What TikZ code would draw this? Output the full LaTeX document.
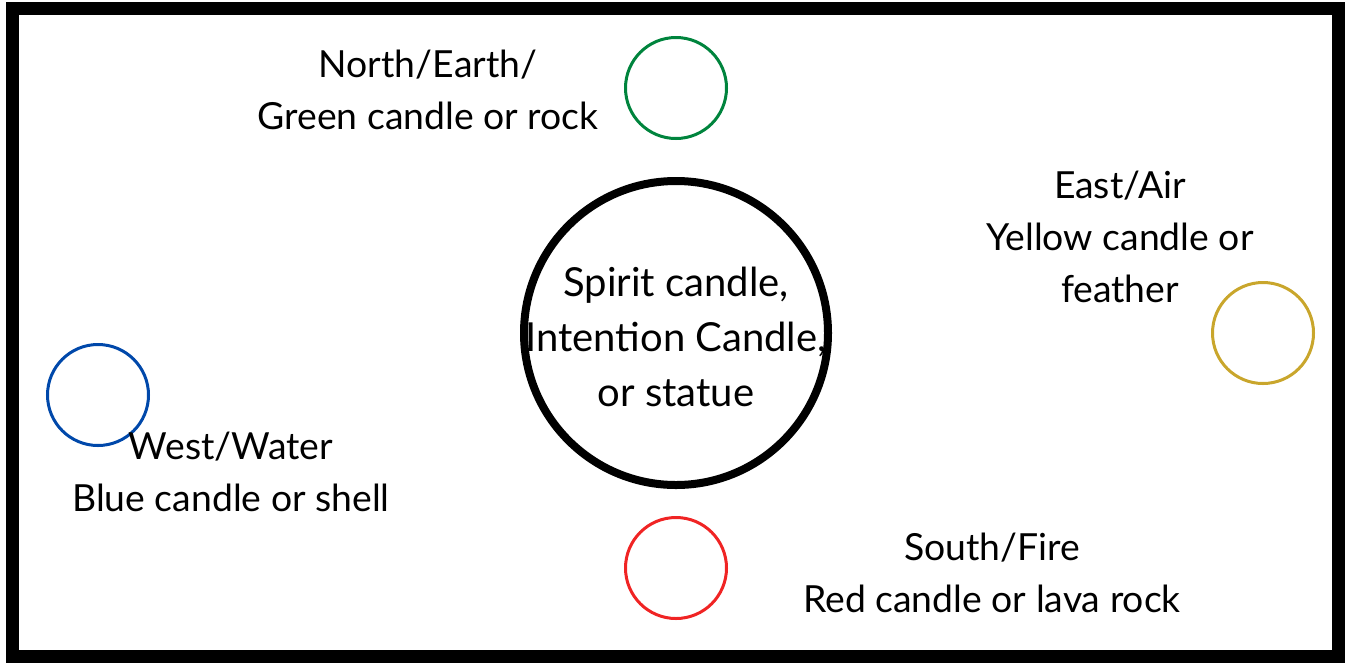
\documentclass[tikz,border=0pt]{standalone}
\usepackage{fontspec}
\setmainfont{Lato}
\definecolor{earth}{RGB}{0,132,61}
\definecolor{air}{RGB}{201,166,44}
\definecolor{water}{RGB}{0,72,170}
\definecolor{fire}{RGB}{240,36,36}
\begin{document}
\begin{tikzpicture}[x=0.75pt, y=-0.75pt,
                    candle/.style={draw, circle, line width=2.25pt, minimum size=75.75pt,
                                   inner sep=0pt, fill=none},
                    txt/.style={align=center, text=black, inner sep=0pt,
                                font=\fontsize{28}{39}\selectfont}]
	\useasboundingbox (0, 0) rectangle (1345, 662);
	\draw[line width=9.75pt] (12.5, 8.5) rectangle (1338, 656.5);

	\node[draw, circle, line width=6pt, minimum size=228pt, inner sep=0pt] (s) at (676, 333) {};
	\node[candle, earth] (c1) at (676, 88) {};
	\node[candle, air]   (c2) at (1263, 333) {};
	\node[candle, water] (c3) at (98, 395) {};
	\node[candle, fire]  (c4) at (676, 568) {};

	\node[txt, font=\fontsize{30}{41}\selectfont] (t0) at (676, 337)
		{Spirit candle,\\Intention Candle,\\or statue};
	\node[txt] (t1) at (428, 90) {North/Earth/\\Green candle or rock};
	\node[txt] (t2) at (1120, 237) {East/Air\\Yellow candle or\\feather};
	\node[txt] (t3) at (231, 472) {West/Water\\Blue candle or shell};
	\node[txt] (t4) at (992, 573) {South/Fire\\Red candle or lava rock};

\end{tikzpicture}
\end{document}
